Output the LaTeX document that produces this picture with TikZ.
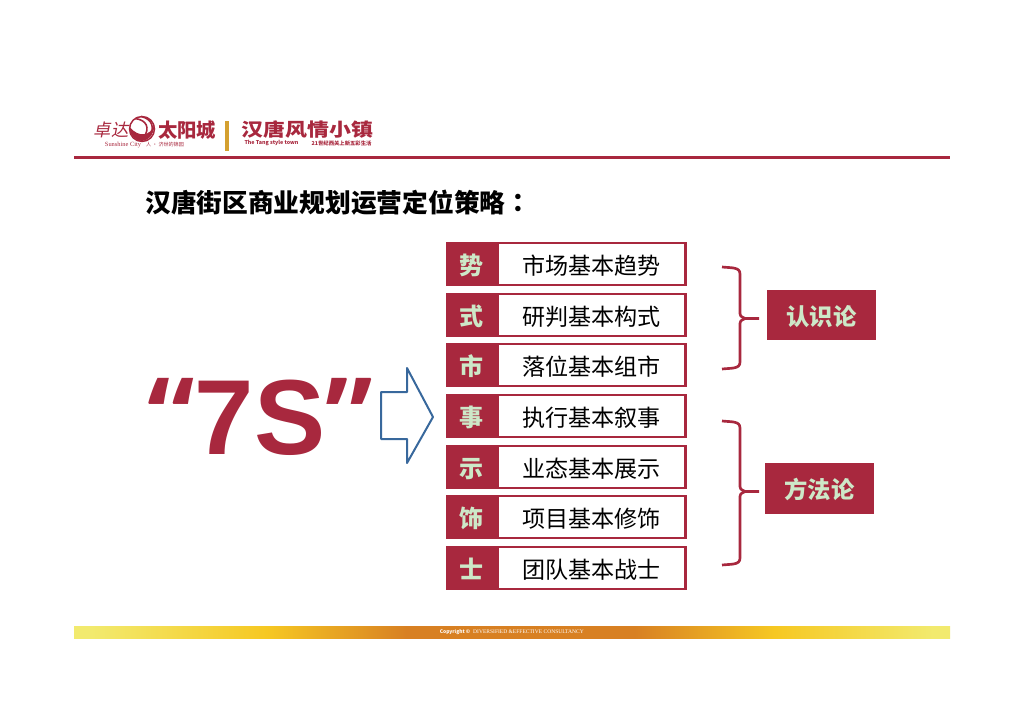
\documentclass[tikz,border=0pt]{standalone}
\usepackage{fontspec}
\setmainfont{Noto Sans CJK SC}
\newfontfamily\tcfont{Noto Sans CJK TC}
\newfontfamily\slantfont[FakeSlant=0.2]{Noto Sans CJK SC}
\newfontfamily\widefont[FakeStretch=1.2]{Noto Sans CJK SC}
\newfontfamily\quotefont{Open Sans}
\newfontfamily\bigfont{Liberation Sans}
\newfontfamily\latinserif{Liberation Serif}
\usetikzlibrary{positioning, arrows.meta}
\definecolor{tangRed}{RGB}{168, 40, 62}
\definecolor{tangGreen}{RGB}{205, 232, 200}
\definecolor{tangBlue}{RGB}{56, 104, 156}
\definecolor{tangGold}{RGB}{212, 160, 48}
\definecolor{stripEnd}{RGB}{242, 234, 110}
\definecolor{stripMid}{RGB}{246, 200, 34}
\definecolor{stripCore}{RGB}{216, 128, 34}
\pgfdeclarehorizontalshading{stripshade}{100bp}{
    color(0bp)=(stripEnd); color(26bp)=(stripEnd); color(36bp)=(stripMid);
    color(44bp)=(stripCore); color(57bp)=(stripCore); color(65bp)=(stripMid); color(74bp)=(stripEnd); color(100bp)=(stripEnd)}

\begin{document}
\begin{tikzpicture}[
    x=0.75pt, y=-0.75pt,
    node distance=4.9pt and 0pt,
    tagbox/.style={
        draw=tangRed,
        fill=tangRed,
        rectangle,
        line width=1.6pt,
        inner sep=0pt,
        minimum width=36.6pt,
        minimum height=31.5pt,
        text height=17pt,
        text depth=1.4pt,
        text=tangGreen,
        font=\fontsize{18}{18}\selectfont\bfseries
    },
    rowbox/.style={
        draw=tangRed,
        fill=white,
        rectangle,
        line width=1.6pt,
        inner sep=0pt,
        minimum width=140.6pt,
        minimum height=31.5pt,
        text height=17pt,
        text depth=1.4pt,
        text=black,
        font=\fontsize{17.3}{18}\selectfont
    },
    sidebox/.style={
        fill=tangRed,
        rectangle,
        inner sep=0pt,
        minimum width=82pt,
        minimum height=38pt,
        text height=17pt,
        text depth=1.4pt,
        text=tangGreen,
        font=\fontsize{17.5}{18}\selectfont\bfseries
    },
    logotext/.style={
        text=tangRed,
        inner sep=0pt
    },
    bracket/.style={
        draw=tangRed,
        line width=2pt,
        line join=round
    }
]
\useasboundingbox (0,0) rectangle (1024,724);

% ================= HEADER =================
\node[logotext, font=\slantfont\fontsize{13}{13}\selectfont] (logoA) at (111,130) {卓达};
\draw[tangRed, line width=1.1pt] (142,129) circle[radius=12.5];
\fill[tangRed] (129.5,127) .. controls (131,146) and (153,146) .. (154.5,125) .. controls (150,136) and (139,138) .. (129.5,127);
\draw[tangRed, line width=1.2pt] (135,118.5) .. controls (147,120) and (150,128) .. (144,137);
\draw[tangRed, line width=1.2pt] (141,116.5) .. controls (153,119) and (155,129) .. (149,137);
\node[logotext, font=\fontsize{14.5}{14.5}\selectfont\bfseries] (logoB) at (187,130) {太阳城};
\node[logotext, font=\latinserif\fontsize{4.8}{5}\selectfont] (logoC) at (123,145) {Sunshine City};
\node[logotext, font=\fontsize{3.8}{4}\selectfont] (logoD) at (165,145) {人 · 济世的锦园};
\fill[tangGold] (225,121) rectangle (228.5,151);
\node[logotext, font=\widefont\fontsize{13.7}{13.7}\selectfont\bfseries] (logoE) at (307.5,129.5) {汉唐风情小镇};
\node[logotext, font=\fontsize{4}{4}\selectfont\bfseries] (logoF) at (271.5,143) {The Tang style town};
\node[logotext, font=\fontsize{4}{4}\selectfont\bfseries] (logoG) at (341.5,143) {21世纪西关上新五彩生活};
\fill[tangRed] (74,156) rectangle (950,159);

% ================= TITLE =================
\node[anchor=west, inner sep=0pt, font=\fontsize{19.3}{19.3}\selectfont\bfseries] (title) at (145,203) {汉唐街区商业规划运营定位策略{\tcfont：}};

% ================= 7S =================
\node[text=tangRed, inner sep=0pt, font=\bigfont\fontsize{80}{80}\selectfont\bfseries] (seven) at (260,417) {{\quotefont “}7S{\quotefont ”}};
\draw[tangBlue, line width=1.5pt, line join=round] (381,392) -- (407,392) -- (407,368) -- (433,417) -- (407,463) -- (407,439) -- (381,439) -- cycle;

% ================= ROWS =================
\node[tagbox] (t1) at (471.5,264) {势};
\node[rowbox, right=of t1] (r1) {市场基本趋势};
\node[tagbox, below=of t1] (t2) {式};
\node[rowbox, right=of t2] (r2) {研判基本构式};
\node[tagbox, below=of t2] (t3) {市};
\node[rowbox, right=of t3] (r3) {落位基本组市};
\node[tagbox, below=of t3] (t4) {事};
\node[rowbox, right=of t4] (r4) {执行基本叙事};
\node[tagbox, below=of t4] (t5) {示};
\node[rowbox, right=of t5] (r5) {业态基本展示};
\node[tagbox, below=of t5] (t6) {饰};
\node[rowbox, right=of t6] (r6) {项目基本修饰};
\node[tagbox, below=of t6] (t7) {士};
\node[rowbox, right=of t7] (r7) {团队基本战士};

% ================= BRACKETS =================
\node[sidebox] (s1) at (821.5,315) {认识论};
\node[sidebox] (s2) at (819.5,488.5) {方法论};
\draw[bracket] (722,267) .. controls (732,268) and (740,267) .. (740,274) -- (740,311) .. controls (740,316) .. (745,318.5) -- (759,318.5);
\draw[bracket] (745,318.5) .. controls (740,321) .. (740,326) -- (740,362) .. controls (740,369) and (732,368) .. (722,369);
\draw[bracket] (722,421) .. controls (732,422) and (740,421) .. (740,428) -- (740,484) .. controls (740,489) .. (745,491.5) -- (759,491.5);
\draw[bracket] (745,491.5) .. controls (740,494) .. (740,499) -- (740,558) .. controls (740,565) and (732,564) .. (722,565);

% ================= FOOTER =================
\path[shading=stripshade] (74,626) rectangle (950,638);
\node[text=white, inner sep=0pt, font=\fontsize{3.7}{4}\selectfont\bfseries] (copyA) at (455,632) {Copyright ©};
\node[text=white, inner sep=0pt, font=\latinserif\fontsize{4.15}{5}\selectfont] (copyB) at (528.5,632) {DIVERSIFIED \&EFFECTIVE CONSULTANCY};
\end{tikzpicture}
\end{document}
